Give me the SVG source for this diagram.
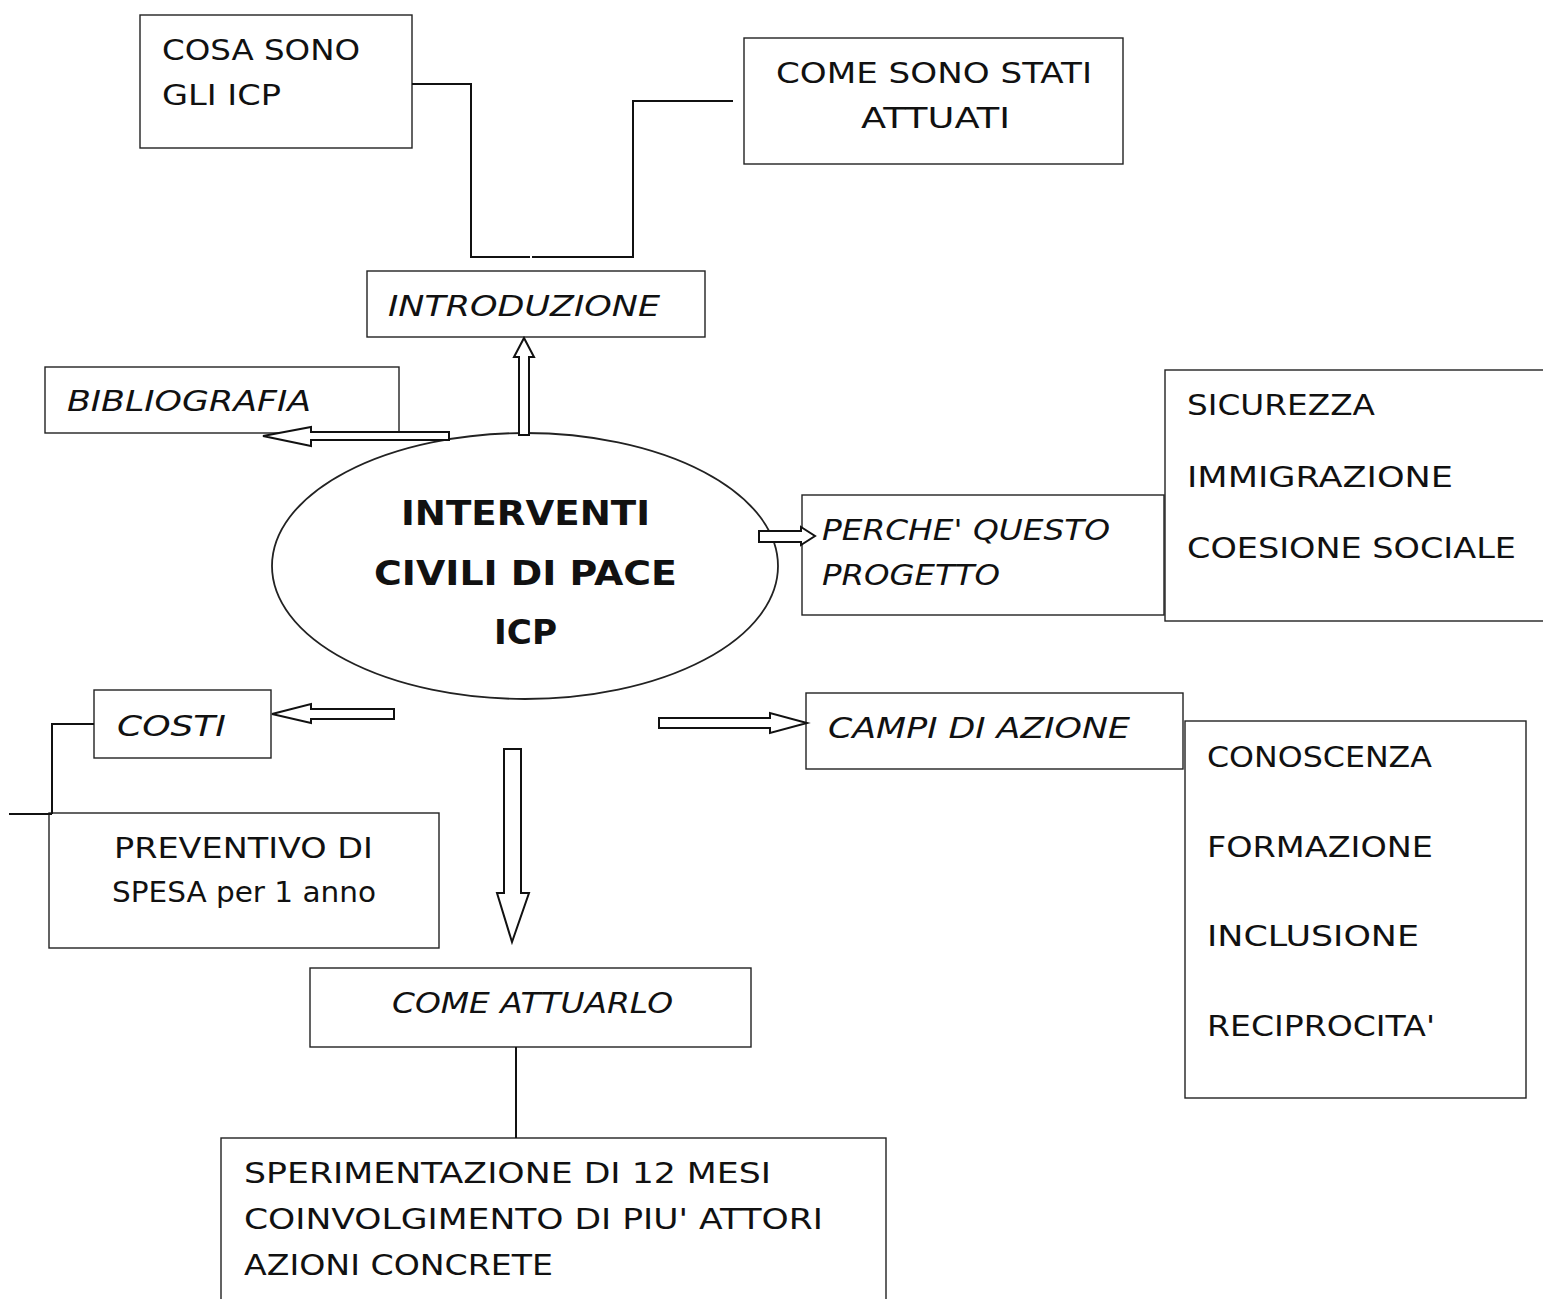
<svg xmlns="http://www.w3.org/2000/svg" width="1543" height="1299" viewBox="0 0 1543 1299">
<style>
.box{fill:#fff;stroke:#222;stroke-width:1.4}
.conn{fill:none;stroke:#111;stroke-width:2}
.arr{fill:#fff;stroke:#111;stroke-width:2;stroke-linejoin:miter}
.t{font-family:"DejaVu Sans","Liberation Sans",sans-serif;font-size:29px;fill:#111}
.i{font-style:italic}
.b{font-weight:bold;font-size:33px}
</style>
<rect width="1543" height="1299" fill="#fff"/>
<g id="cosa">
<rect class="box" x="140" y="15" width="272" height="133"/>
<text class="t" x="162" y="60" textLength="198" lengthAdjust="spacingAndGlyphs">COSA SONO</text>
<text class="t" x="162" y="105" textLength="119" lengthAdjust="spacingAndGlyphs">GLI ICP</text>
</g>
<g id="come-stati">
<rect class="box" x="744" y="38" width="379" height="126"/>
<text class="t" x="776" y="83" textLength="316" lengthAdjust="spacingAndGlyphs">COME SONO STATI</text>
<text class="t" x="861" y="128" textLength="149" lengthAdjust="spacingAndGlyphs">ATTUATI</text>
</g>
<g id="introduzione">
<rect class="box" x="367" y="271" width="338" height="66"/>
<text class="t i" x="388" y="316" textLength="272" lengthAdjust="spacingAndGlyphs">INTRODUZIONE</text>
</g>
<g id="bibliografia">
<rect class="box" x="45" y="367" width="354" height="66"/>
<text class="t i" x="67" y="411" textLength="244" lengthAdjust="spacingAndGlyphs">BIBLIOGRAFIA</text>
</g>
<g id="centro">
<ellipse class="box" cx="525" cy="566" rx="253" ry="133" style="stroke-width:1.8"/>
<text class="t b" x="401" y="525" textLength="249" lengthAdjust="spacingAndGlyphs">INTERVENTI</text>
<text class="t b" x="374" y="585" textLength="303" lengthAdjust="spacingAndGlyphs">CIVILI DI PACE</text>
<text class="t b" x="494" y="644" textLength="63" lengthAdjust="spacingAndGlyphs">ICP</text>
</g>
<g id="perche">
<rect class="box" x="802" y="495" width="362" height="120"/>
<text class="t i" x="822" y="540" textLength="288" lengthAdjust="spacingAndGlyphs">PERCHE' QUESTO</text>
<text class="t i" x="822" y="585" textLength="178" lengthAdjust="spacingAndGlyphs">PROGETTO</text>
</g>
<g id="sicurezza">
<rect class="box" x="1165" y="370" width="385" height="251"/>
<text class="t" x="1187" y="415" textLength="188" lengthAdjust="spacingAndGlyphs">SICUREZZA</text>
<text class="t" x="1187" y="487" textLength="266" lengthAdjust="spacingAndGlyphs">IMMIGRAZIONE</text>
<text class="t" x="1187" y="558" textLength="329" lengthAdjust="spacingAndGlyphs">COESIONE SOCIALE</text>
</g>
<g id="costi">
<rect class="box" x="94" y="690" width="177" height="68"/>
<text class="t i" x="117" y="736" textLength="109" lengthAdjust="spacingAndGlyphs">COSTI</text>
</g>
<g id="preventivo">
<rect class="box" x="49" y="813" width="390" height="135"/>
<text class="t" x="114" y="858" textLength="259" lengthAdjust="spacingAndGlyphs">PREVENTIVO DI</text>
<text class="t" x="112" y="902" textLength="264" lengthAdjust="spacingAndGlyphs">SPESA per 1 anno</text>
</g>
<g id="campi">
<rect class="box" x="806" y="693" width="377" height="76"/>
<text class="t i" x="828" y="738" textLength="302" lengthAdjust="spacingAndGlyphs">CAMPI DI AZIONE</text>
</g>
<g id="conoscenza">
<rect class="box" x="1185" y="721" width="341" height="377"/>
<text class="t" x="1207" y="767" textLength="225" lengthAdjust="spacingAndGlyphs">CONOSCENZA</text>
<text class="t" x="1207" y="857" textLength="226" lengthAdjust="spacingAndGlyphs">FORMAZIONE</text>
<text class="t" x="1207" y="946" textLength="212" lengthAdjust="spacingAndGlyphs">INCLUSIONE</text>
<text class="t" x="1207" y="1036" textLength="228" lengthAdjust="spacingAndGlyphs">RECIPROCITA'</text>
</g>
<g id="come-attuarlo">
<rect class="box" x="310" y="968" width="441" height="79"/>
<text class="t i" x="392" y="1013" textLength="281" lengthAdjust="spacingAndGlyphs">COME ATTUARLO</text>
</g>
<g id="sperimentazione">
<rect class="box" x="221" y="1138" width="665" height="175"/>
<text class="t" x="244" y="1183" textLength="527" lengthAdjust="spacingAndGlyphs">SPERIMENTAZIONE DI 12 MESI</text>
<text class="t" x="244" y="1229" textLength="579" lengthAdjust="spacingAndGlyphs">COINVOLGIMENTO DI PIU' ATTORI</text>
<text class="t" x="244" y="1275" textLength="309" lengthAdjust="spacingAndGlyphs">AZIONI CONCRETE</text>
</g>
<g id="connectors">
<polyline class="conn" points="412,84 471,84 471,257 530,257"/>
<polyline class="conn" points="532,257 633,257 633,101 733,101"/>
<polyline class="conn" points="94,724 52,724 52,814"/>
<line class="conn" x1="9" y1="814" x2="52" y2="814"/>
<line class="conn" x1="516" y1="1047" x2="516" y2="1138"/>
<polygon class="arr" points="519,435 519,357 514,357 524,338 534,357 529,357 529,435"/>
<polygon class="arr" points="449,432 311,432 311,427 263,436 311,446 311,440 449,440"/>
<polygon class="arr" points="759,531 801,531 801,527 815,536 801,545 801,542 759,542"/>
<polygon class="arr" points="394,709 311,709 311,704 272,714 311,723 311,719 394,719"/>
<polygon class="arr" points="659,718 770,718 770,713 807,723 770,733 770,728 659,728"/>
<polygon class="arr" points="504,749 521,749 521,893 529,893 512,942 497,893 504,893"/>
</g>
</svg>
